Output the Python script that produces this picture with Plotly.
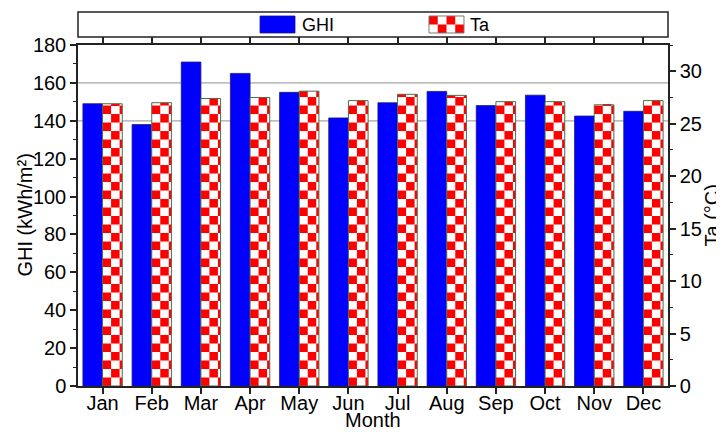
import plotly.graph_objects as go

months = ["Jan", "Feb", "Mar", "Apr", "May", "Jun", "Jul", "Aug", "Sep", "Oct", "Nov", "Dec"]
ghi = [149, 138, 171, 165, 155, 141.5, 149.5, 155.5, 148, 153.5, 142.5, 145]
ta = [26.9, 27.0, 27.4, 27.5, 28.1, 27.2, 27.8, 27.7, 27.1, 27.1, 26.8, 27.2]
grid_values = [140, 160]

FONT = "Liberation Sans, Arial, sans-serif"
BAR_W = 0.40
CELL_W = 0.173   # checker cell width (category units)
CELL_H = 0.81    # checker cell height (degC)
RED = "#ff0000"
BLUE = "#0000ff"
EDGE = "#4d6b4d"

fig = go.Figure()

# GHI bars (left axis)
fig.add_bar(x=months, y=ghi, offset=-BAR_W, width=BAR_W, name="GHI",
            marker=dict(color=BLUE, line=dict(color="#1a1a6e", width=0.8)),
            yaxis="y", showlegend=False)

# Ta bars: white background
fig.add_bar(x=months, y=ta, offset=0, width=BAR_W, name="Ta",
            marker=dict(color="white", line=dict(width=0)),
            yaxis="y2", showlegend=False)

# Ta checkerboard cells built from the Ta values
ncols = 0
while ncols * CELL_W < BAR_W:
    ncols += 1
for k in range(ncols):
    x0 = k * CELL_W
    w = min(CELL_W, BAR_W - x0)
    xs, bases, hs = [], [], []
    for m, t in zip(months, ta):
        r = 0
        while r * CELL_H < t:
            if (r + k) % 2 == 0:
                xs.append(m)
                bases.append(r * CELL_H)
                hs.append(min(CELL_H, t - r * CELL_H))
            r += 1
    fig.add_bar(x=xs, y=hs, base=bases, offset=x0, width=w,
                marker=dict(color=RED, line=dict(width=0)),
                yaxis="y2", showlegend=False, hoverinfo="skip")

# Ta outline on top
fig.add_bar(x=months, y=ta, offset=0, width=BAR_W,
            marker=dict(color="rgba(0,0,0,0)", line=dict(color=EDGE, width=1)),
            yaxis="y2", showlegend=False, hoverinfo="skip")

shapes = []
for g in grid_values:
    shapes.append(dict(type="line", xref="paper", yref="y", x0=0, x1=1, y0=g, y1=g,
                       layer="below", line=dict(color="#a6a6a6", width=1.2)))

# manual legend box
shapes.append(dict(type="rect", xref="paper", yref="paper", x0=0, x1=1, y0=1.0235, y1=1.0968,
                   line=dict(color="#222", width=1.5), fillcolor="white"))
# GHI swatch
shapes.append(dict(type="rect", xref="paper", yref="paper", x0=0.3085, x1=0.3678, y0=1.0352, y1=1.0850,
                   line=dict(color="#1a1a6e", width=0.8), fillcolor=BLUE))
# Ta checkered swatch
sx0, sx1, sy0, sy1 = 0.5949, 0.6542, 1.0352, 1.0850
nsx, nsy = 4, 2
dx = (sx1 - sx0) / nsx
dy = (sy1 - sy0) / nsy
shapes.append(dict(type="rect", xref="paper", yref="paper", x0=sx0, x1=sx1, y0=sy0, y1=sy1,
                   line=dict(width=0), fillcolor="white"))
for i in range(nsx):
    for j in range(nsy):
        if (i + j) % 2 == 1:
            shapes.append(dict(type="rect", xref="paper", yref="paper",
                               x0=sx0 + i * dx, x1=sx0 + (i + 1) * dx,
                               y0=sy0 + j * dy, y1=sy0 + (j + 1) * dy,
                               line=dict(width=0), fillcolor=RED))
shapes.append(dict(type="rect", xref="paper", yref="paper", x0=sx0, x1=sx1, y0=sy0, y1=sy1,
                   line=dict(color="#777", width=1), fillcolor="rgba(0,0,0,0)"))

title_font = dict(family=FONT, size=20, color="black")
annotations = [
    dict(text="GHI", xref="paper", yref="paper", x=0.3763, y=1.0601, xanchor="left", yanchor="middle",
         showarrow=False, font=dict(family=FONT, size=18, color="black")),
    dict(text="Ta", xref="paper", yref="paper", x=0.661, y=1.0601, xanchor="left", yanchor="middle",
         showarrow=False, font=dict(family=FONT, size=18, color="black")),
    # axis titles
    dict(text="Month", xref="paper", yref="paper", x=0.5, y=-0.099, xanchor="center", yanchor="middle",
         showarrow=False, font=title_font, borderpad=0),
    dict(text="GHI (kWh/m²)", xref="paper", yref="paper", x=-0.0915, y=0.5, xanchor="center",
         yanchor="middle", textangle=-90, showarrow=False, font=title_font, borderpad=0),
    dict(text="Ta (°C)", xref="paper", yref="paper", x=1.0729, y=0.5, xanchor="center",
         yanchor="middle", textangle=-90, showarrow=False, font=title_font, borderpad=0),
]

axis_font = dict(family=FONT, size=20, color="black")
fig.update_layout(
    template="none",
    width=716, height=424,
    margin=dict(l=70, r=56, t=37, b=46, autoexpand=False),
    paper_bgcolor="white", plot_bgcolor="white",
    barmode="overlay",
    font=dict(family=FONT, size=20, color="black"),
    shapes=shapes, annotations=annotations,
    showlegend=False,
    xaxis=dict(range=[-0.5, 11.5], showline=True, linecolor="#222", linewidth=1.5,
               mirror="ticks", ticks="outside", ticklen=6, tickcolor="#222", tickwidth=1.5,
               tickfont=axis_font, showgrid=False, automargin=False, zeroline=False,
               ticklabelstandoff=-8),
    yaxis=dict(range=[0, 180], dtick=20, showline=True, linecolor="#222", linewidth=1.5,
               ticks="outside", ticklen=6, tickcolor="#222", tickwidth=1.5,
               minor=dict(dtick=10, ticks="outside", ticklen=3, tickcolor="#222", tickwidth=1.2),
               tickfont=axis_font, showgrid=False, zeroline=False, automargin=False),
    yaxis2=dict(range=[0, 32.5], dtick=5, overlaying="y", side="right", showline=True,
                linecolor="#222", linewidth=1.5, ticks="outside", ticklen=6, tickcolor="#222", tickwidth=1.5,
                minor=dict(dtick=2.5, ticks="outside", ticklen=3, tickcolor="#222", tickwidth=1.2),
                tickfont=axis_font, showgrid=False, zeroline=False, automargin=False),
)

fig.write_html("out.html")
